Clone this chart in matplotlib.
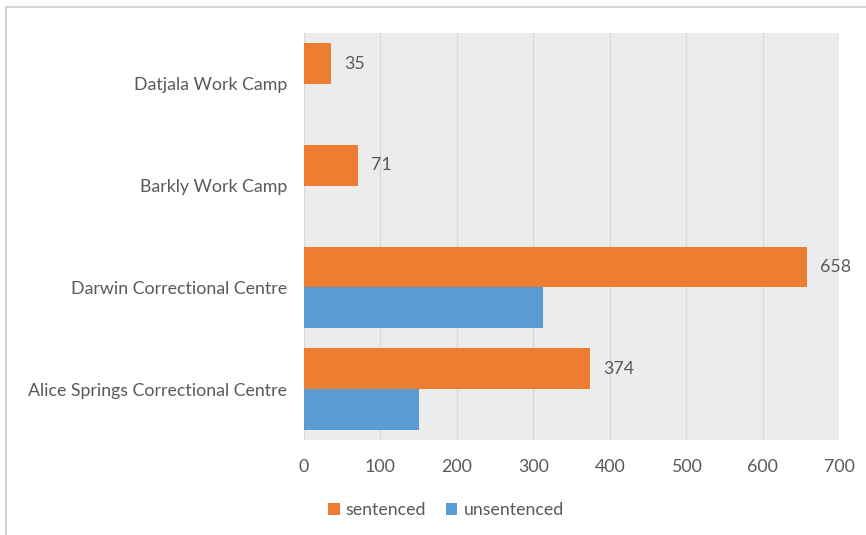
import matplotlib.pyplot as plt
from matplotlib.patches import Rectangle

# dane
facilities = ["Alice Springs Correctional Centre", "Darwin Correctional Centre",
              "Barkly Work Camp", "Datjala Work Camp"]
sentenced = [374, 658, 71, 35]
unsentenced = [150, 313, 0, 0]
x_ticks = [0, 100, 200, 300, 400, 500, 600, 700]

orange = "#ED7D31"
blue = "#5B9BD5"
text_col = "#595959"

plt.rcParams["font.family"] = ["Lato", "DejaVu Sans"]

fig = plt.figure(figsize=(8.66, 5.35), dpi=100)
ax = fig.add_axes([304 / 866, 1 - 440 / 535, 535 / 866, 407 / 535])

# ramka zrzutu ekranu
fig.patches.append(Rectangle((6 / 866, -0.1), 2, 1 - 7 / 535 + 0.1,
                             transform=fig.transFigure, fill=False,
                             edgecolor="#d4d4d4", linewidth=1.5))

pos = list(range(len(facilities)))
h = 0.4
bars_s = ax.barh([p + h / 2 for p in pos], sentenced, height=h, color=orange,
                 label="sentenced", zorder=3)
ax.barh([p - h / 2 for p in pos], unsentenced, height=h, color=blue,
        label="unsentenced", zorder=3)

for b, v in zip(bars_s, sentenced):
    ax.text(b.get_width() + 17, b.get_y() + b.get_height() / 2, str(v),
            va="center", ha="left", fontsize=12.8, color=text_col)

ax.set_facecolor("#ececec")
ax.set_xlim(0, 700)
ax.set_ylim(-0.5, 3.5)
ax.set_xticks(x_ticks)
ax.set_yticks(pos)
ax.set_yticklabels(facilities)
ax.xaxis.grid(True, color="#d9d9d9", linewidth=1, zorder=0)
ax.tick_params(length=0, labelsize=12.8, colors=text_col)
ax.tick_params(axis="x", pad=14)
ax.tick_params(axis="y", pad=12)
for s in ax.spines.values():
    s.set_visible(False)

leg = fig.legend(loc="center", bbox_to_anchor=(0.515, 1 - 510 / 535), ncol=2,
                 frameon=False, fontsize=12.8, handlelength=0.65, handleheight=0.65,
                 handletextpad=0.35, columnspacing=1.1)
for t in leg.get_texts():
    t.set_color(text_col)

fig.savefig("out.png", dpi=100)
